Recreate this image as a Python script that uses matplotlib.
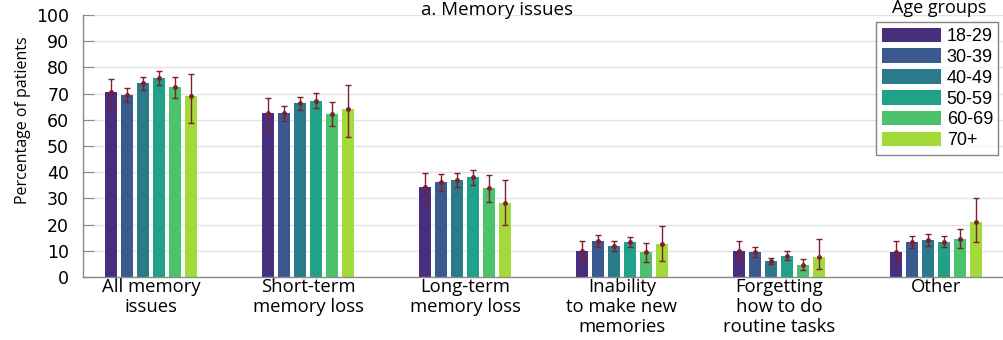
import numpy as np
import matplotlib
matplotlib.use("Agg")
import matplotlib.pyplot as plt
from matplotlib.patches import Patch

categories = ["All memory\nissues", "Short-term\nmemory loss", "Long-term\nmemory loss",
              "Inability\nto make new\nmemories", "Forgetting\nhow to do\nroutine tasks", "Other"]
age_groups = ["18-29", "30-39", "40-49", "50-59", "60-69", "70+"]
colors = ["#472f7d", "#3a5a8f", "#2a7a8c", "#21a187", "#4cc26c", "#a4d93a"]

# percentage of patients per category, one list per age group
values = {
    "18-29": [70.7, 62.5, 34.2, 10.0, 10.0, 9.7],
    "30-39": [69.5, 62.5, 36.1, 13.7, 9.7, 13.2],
    "40-49": [73.9, 66.3, 37.0, 11.8, 6.1, 14.1],
    "50-59": [76.0, 67.3, 38.0, 13.4, 8.0, 13.4],
    "60-69": [72.4, 62.2, 33.8, 9.4, 4.7, 14.6],
    "70+":   [69.2, 64.0, 28.1, 12.6, 7.5, 20.9],
}
# confidence interval bounds (lower, upper)
ci_low = {
    "18-29": [64.5, 57.0, 28.8, 6.2, 6.2, 5.8],
    "30-39": [66.8, 59.6, 33.0, 11.5, 7.8, 10.9],
    "40-49": [71.5, 63.8, 34.4, 9.8, 4.8, 12.0],
    "50-59": [73.4, 64.4, 35.0, 11.4, 6.3, 11.4],
    "60-69": [68.4, 57.6, 28.8, 5.9, 2.5, 11.0],
    "70+":   [58.7, 53.5, 19.8, 6.2, 3.2, 13.5],
}
ci_high = {
    "18-29": [75.7, 68.2, 39.8, 13.9, 13.9, 13.7],
    "30-39": [72.1, 65.4, 39.2, 15.9, 11.6, 15.5],
    "40-49": [76.3, 68.8, 39.6, 13.7, 7.4, 16.3],
    "50-59": [78.6, 70.4, 41.0, 15.4, 9.8, 15.5],
    "60-69": [76.4, 66.8, 38.8, 12.9, 7.0, 18.3],
    "70+":   [77.5, 73.3, 37.0, 19.6, 14.5, 30.0],
}
yticks = list(range(0, 101, 10))

fig = plt.figure(figsize=(10.04, 3.40), dpi=100)
ax = fig.add_axes([0.0827, 0.1853, 0.9173, 0.7706])

x = np.arange(len(categories))
step = 0.102
width = 0.074
err_color = "#7d1f2c"
for i, g in enumerate(age_groups):
    off = (i - 2.5) * step
    v = np.array(values[g])
    lo = v - np.array(ci_low[g])
    hi = np.array(ci_high[g]) - v
    ax.bar(x + off, v, width=width, color=colors[i], zorder=2)
    ax.errorbar(x + off, v, yerr=[lo, hi], fmt="o", color=err_color, ms=2.5,
                elinewidth=1.0, capsize=2, capthick=1.0, zorder=3)

ax.set_xlim(-0.435, 5.435)
ax.set_ylim(0, 100)
ax.set_yticks(yticks)
ax.set_yticklabels([str(t) for t in yticks], fontfamily="DejaVu Sans", fontsize=12.5)
ax.set_xticks(x)
ax.set_xticklabels(categories, fontfamily="Open Sans", fontsize=13.3, linespacing=1.12)
ax.tick_params(axis="x", length=0, pad=1)
ax.tick_params(axis="y", direction="in", length=8, color="#8a8a8a", pad=10)
ax.yaxis.grid(True, color="#e3e3e3", linewidth=1.0, zorder=0)
ax.set_axisbelow(True)
for s in ["top", "right"]:
    ax.spines[s].set_visible(False)
for s in ["left", "bottom"]:
    ax.spines[s].set_color("#8a8a8a")
    ax.spines[s].set_linewidth(1.0)

ax.set_ylabel("Percentage of patients", fontfamily="Open Sans", fontsize=11.5)
ax.yaxis.set_label_coords(-0.057, 0.6)

fig.text(0.495, 0.998, "a. Memory issues", ha="center", va="top",
         fontfamily="Open Sans", fontsize=13.5)
fig.text(0.935, 1.003, "Age groups", ha="center", va="top",
         fontfamily="Open Sans", fontsize=13)

handles = [Patch(facecolor=c, edgecolor="none") for c in colors]
leg = ax.legend(handles, age_groups, loc="upper right", bbox_to_anchor=(0.9945, 0.935),
                bbox_transform=fig.transFigure, frameon=True, fancybox=False,
                prop={"family": "Liberation Sans", "size": 13}, handlelength=3.3,
                handleheight=0.85, handletextpad=0.3, labelspacing=0.19,
                borderpad=0.3, borderaxespad=0)
leg.get_frame().set_edgecolor("#666666")
leg.get_frame().set_linewidth(1.0)

fig.savefig("out.png", dpi=100, facecolor="white")
